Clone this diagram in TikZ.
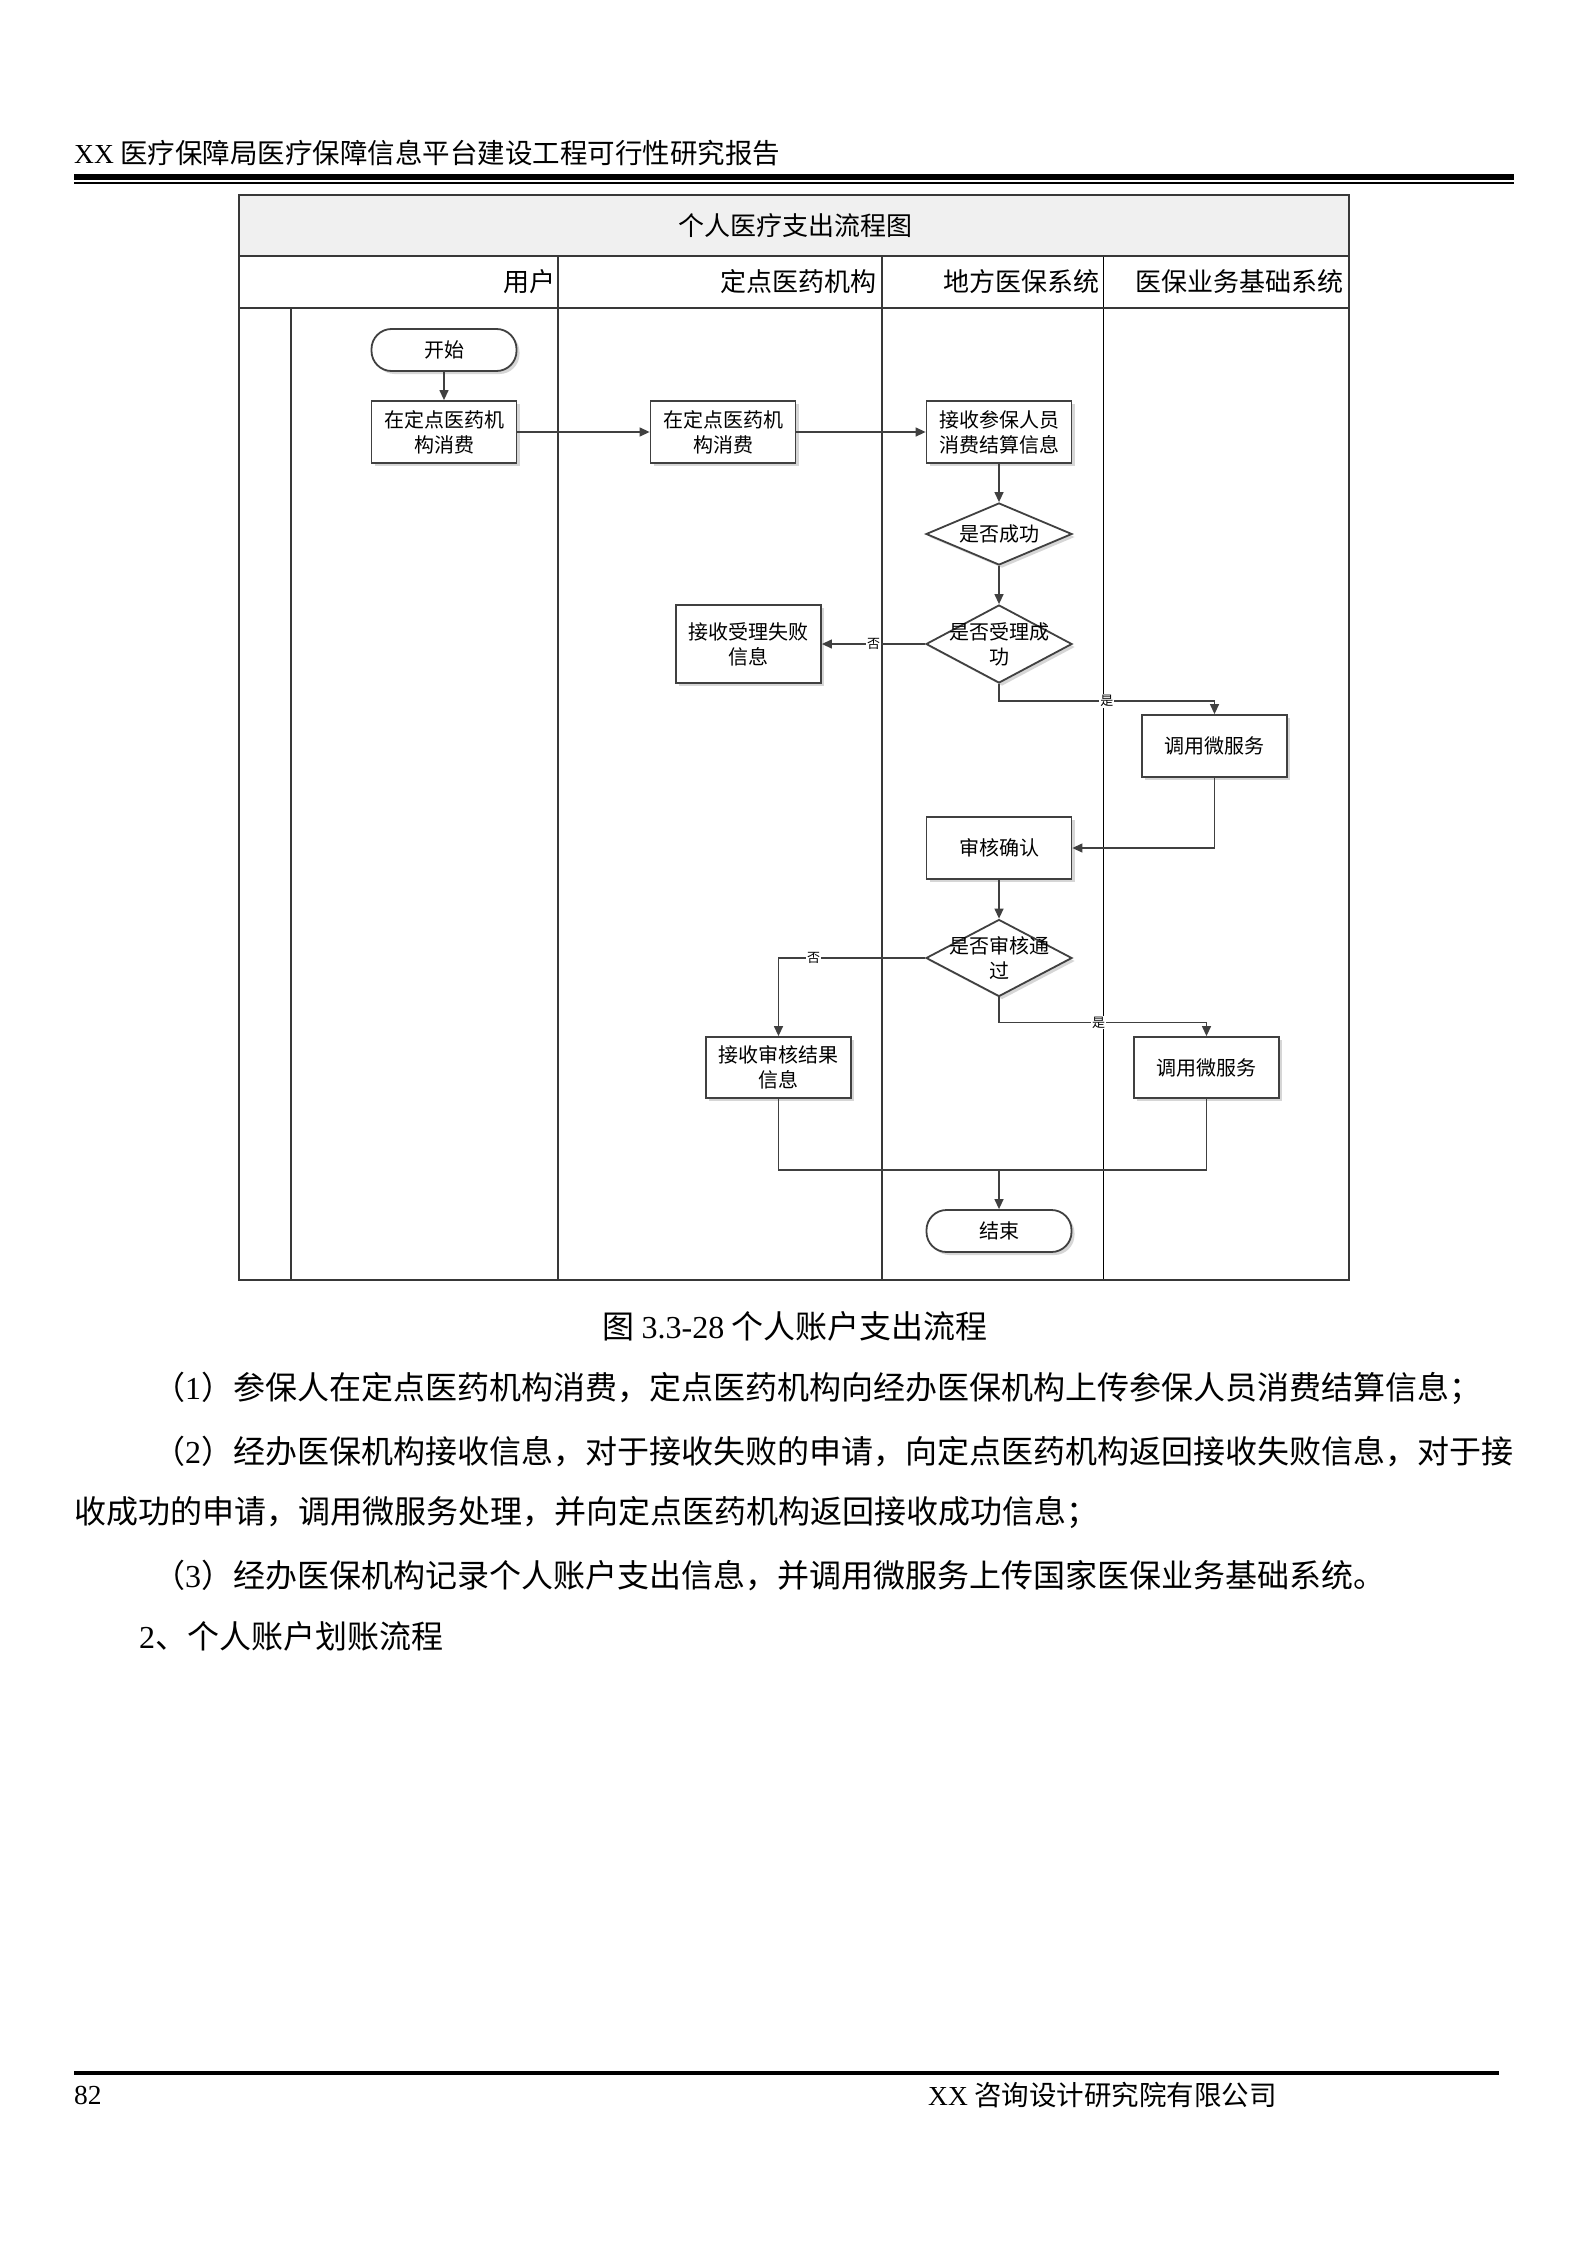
\documentclass[tikz,border=0pt]{standalone}
\usepackage{fontspec}
\setmainfont{Liberation Serif}
\newfontfamily\cjk{Noto Sans CJK SC}
\usetikzlibrary{shapes.geometric,arrows.meta,shadows,calc}
\newcommand\lat[1]{{\rmfamily #1}}
\newcommand\nodefont{\cjk\fontsize{20pt}{25pt}\selectfont}
\newcommand\headfont{\cjk\fontsize{26pt}{31pt}\selectfont}
\newcommand\bodyfont{\cjk\fontsize{32pt}{38pt}\selectfont}
\newcommand\pagefont{\cjk\fontsize{27.5pt}{33pt}\selectfont}
\newcommand\tagfont{\cjk\fontsize{13pt}{15pt}\selectfont}
\definecolor{ln}{HTML}{404040}
\definecolor{tb}{HTML}{383838}
\begin{document}
\begin{tikzpicture}[x=1pt,y=-1pt,
  shadowed/.style={drop shadow={shadow xshift=3pt,shadow yshift=-3pt,fill=black!45,opacity=0.35}},
  procbox/.style={rectangle,draw=ln,line width=1.8pt,fill=white,minimum width=145pt,minimum height=62pt,inner sep=0pt,align=center,font=\nodefont,shadowed},
  term/.style={procbox,rounded corners=20pt,minimum height=42pt},
  dec/.style={diamond,draw=ln,line width=1.8pt,fill=white,minimum width=146pt,inner sep=0pt,shadowed},
  dectext/.style={label={[align=center,font=\nodefont,inner sep=0pt]center:#1}},
  con/.style={draw=ln,line width=1.3pt},
  arr/.style={con,-{Triangle[length=10pt,width=9pt]}},
  tag/.style={fill=white,inner sep=1pt,font=\tagfont},
  lanelabel/.style={font=\headfont,anchor=east,inner sep=0pt},
  bodyline/.style={font=\bodyfont,anchor=west,inner sep=0pt}]

\fill[white] (0,0) rectangle (1588,2245);
\useasboundingbox (0,0) rectangle (1588,2245);

% page header
\node[font=\pagefont,anchor=west,inner sep=0pt] (pagehead) at (74,153) {\lat{XX} 医疗保障局医疗保障信息平台建设工程可行性研究报告};
\fill[black] (74,174) rectangle (1514,180);
\fill[black] (74,182) rectangle (1514,184);

% table
\fill[black!6] (239,195) rectangle (1349,256);
\draw[tb,line width=1.6pt] (558,256) -- (558,1280);
\draw[tb,line width=1.6pt] (882,256) -- (882,1280);
\draw[tb,line width=1.6pt] (291,308) -- (291,1280);
\draw[black,line width=1pt] (1103,256) -- (1103,1280);
\draw[tb,line width=2.6pt] (239,256) -- (1349,256);
\draw[tb,line width=2.6pt] (239,308) -- (1349,308);
\draw[tb,line width=2.6pt] (239,195) rectangle (1349,1280);

\node[font=\headfont,inner sep=0pt] (title) at (795,226) {个人医疗支出流程图};
\node[lanelabel] (l1) at (556,282) {用户};
\node[lanelabel] (l2) at (877,282) {定点医药机构};
\node[lanelabel] (l3) at (1100,282) {地方医保系统};
\node[lanelabel] (l4) at (1344,282) {医保业务基础系统};

% nodes
\node[term] (start) at (444,350) {开始};
\node[procbox] (u1) at (444,432) {在定点医药机\\构消费};
\node[procbox] (d1) at (723,432) {在定点医药机\\构消费};
\node[procbox] (r1) at (999,432) {接收参保人员\\消费结算信息};
\node[dec,minimum height=62pt,dectext={是否成功}] (dm1) at (999,534) {};
\node[dec,minimum height=78pt,dectext={是否受理成\\功}] (dm2) at (999,644) {};
\node[procbox,minimum height=78pt] (f1) at (748.5,644) {接收受理失败\\信息};
\node[procbox] (ms1) at (1214.5,746) {调用微服务};
\node[procbox] (sh) at (999,848) {审核确认};
\node[dec,minimum height=77pt,dectext={是否审核通\\过}] (dm3) at (999,958) {};
\node[procbox,minimum height=61pt] (f2) at (778.5,1067.5) {接收审核结果\\信息};
\node[procbox,minimum height=61pt] (ms2) at (1206.5,1067.5) {调用微服务};
\node[term] (end) at (999,1231) {结束};
\coordinate (merge) at (999,1170);

% connectors
\draw[arr] (start) -- (u1);
\draw[arr] (u1) -- (d1);
\draw[arr] (d1) -- (r1);
\draw[arr] (r1) -- (dm1);
\draw[arr] (dm1) -- (dm2);
\draw[arr] (dm2.west) -- node[tag] {否} (f1.east);
\draw[arr] (dm2.south) -- ++(0,17) -| node[tag,pos=0.25] {是} (ms1.north);
\draw[arr] (ms1.south) |- (sh.east);
\draw[arr] (sh) -- (dm3);
\draw[arr] (dm3.west) -| node[tag,pos=0.38] {否} (f2.north);
\draw[arr] (dm3.south) -- ++(0,25) -| node[tag,pos=0.24] {是} (ms2.north);
\draw[con] (f2.south) |- (merge);
\draw[con] (ms2.south) |- (merge);
\draw[arr] (merge) -- (end);

% caption and body text
\node[font=\bodyfont,inner sep=0pt] (cap) at (795,1326) {图 \lat{3.3-28} 个人账户支出流程};
\node[bodyline] (p1) at (153,1388) {（\lat{1}）参保人在定点医药机构消费，定点医药机构向经办医保机构上传参保人员消费结算信息；};
\node[bodyline] (p2) at (153,1451) {（\lat{2}）经办医保机构接收信息，对于接收失败的申请，向定点医药机构返回接收失败信息，对于接};
\node[bodyline] (p3) at (74,1512) {收成功的申请，调用微服务处理，并向定点医药机构返回接收成功信息；};
\node[bodyline] (p4) at (153,1575) {（\lat{3}）经办医保机构记录个人账户支出信息，并调用微服务上传国家医保业务基础系统。};
\node[bodyline] (p5) at (139,1636) {\lat{2}、个人账户划账流程};

% footer
\fill[black] (74,2071) rectangle (1499,2075);
\node[font=\pagefont,anchor=west,inner sep=0pt] (pgno) at (74,2095) {\lat{82}};
\node[font=\pagefont,anchor=west,inner sep=0pt] (foot) at (928,2095) {\lat{XX} 咨询设计研究院有限公司};
\end{tikzpicture}
\end{document}
